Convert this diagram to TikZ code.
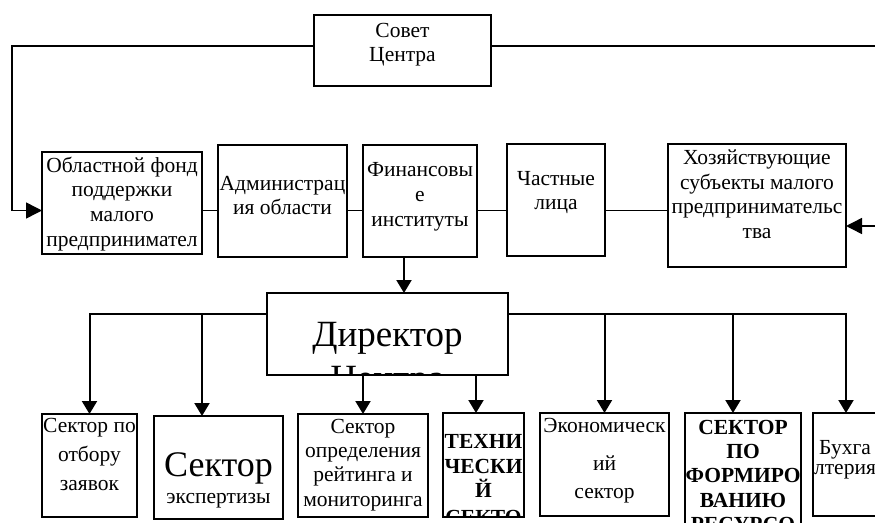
\documentclass[tikz,border=0pt]{standalone}
\usepackage{fontspec}
\setmainfont{Liberation Serif}
\usetikzlibrary{arrows.meta}
\begin{document}
\begin{tikzpicture}[x=1pt,y=-1pt,
  box/.style={draw, line width=2pt, rectangle, inner sep=0pt, outer sep=0pt},
  txt/.style={font=\fontsize{21.5}{25}\selectfont, inner sep=0pt, anchor=base},
  btxt/.style={font=\fontsize{21.5}{25}\selectfont\bfseries, inner sep=0pt, anchor=base},
  bigtxt/.style={font=\fontsize{37}{44}\selectfont, inner sep=0pt, anchor=base},
  link/.style={line width=1.5pt},
  arr/.style={line width=2pt, -{Triangle[width=15pt,length=13pt]}},
  sidearr/.style={line width=1.5pt, -{Triangle[width=16pt,length=16pt]}},
]
\fill[white] (0,0) rectangle (875,522);
\useasboundingbox (0,0) rectangle (875,522);

% boxes
\node[box, minimum width=177pt, minimum height=71pt]  (sovet)    at (402.5,50.5) {};
\node[box, minimum width=160pt, minimum height=102pt] (fund)     at (122,202.5) {};
\node[box, minimum width=129pt, minimum height=112pt] (admin)    at (282.5,201) {};
\node[box, minimum width=114pt, minimum height=112pt] (fin)      at (420,201) {};
\node[box, minimum width=98pt,  minimum height=112pt] (chast)    at (556,200) {};
\node[box, minimum width=178pt, minimum height=123pt] (khoz)     at (757,205.5) {};
\node[box, minimum width=241pt, minimum height=82pt]  (director) at (387.5,334) {};
\node[box, minimum width=95pt,  minimum height=103pt] (b1) at (89.5,465.5) {};
\node[box, minimum width=129pt, minimum height=103pt] (b2) at (218.5,467.5) {};
\node[box, minimum width=130pt, minimum height=103pt] (b3) at (363,465.5) {};
\node[box, minimum width=81pt,  minimum height=104pt] (b4) at (483.5,465) {};
\node[box, minimum width=129pt, minimum height=103pt] (b5) at (604.5,464.5) {};
\node[box, minimum width=116pt, minimum height=147pt] (b6) at (743,486.5) {};
\node[box, minimum width=97pt,  minimum height=103pt] (b7) at (861.5,464.5) {};

% helper coordinates
\coordinate (tl) at (12,46);
\coordinate (rr) at (877,226);
\coordinate (hy) at (0,210.5);
\coordinate (ax) at (404,0);
\coordinate (by) at (0,314);
\coordinate (bx2) at (202,0);
\coordinate (bx4) at (476,0);
\coordinate (bx6) at (733,0);
\coordinate (bx7) at (846,0);

% connectors
\draw[sidearr] (sovet.west |- tl) -- (tl) |- (fund.west |- hy);
\draw[sidearr] (sovet.east |- tl) -| (rr) -- (khoz.east |- rr);
\draw[link] (fund.east |- hy) -- (admin.west |- hy);
\draw[link] (admin.east |- hy) -- (fin.west |- hy);
\draw[link] (fin.east |- hy) -- (chast.west |- hy);
\draw[link] (chast.east |- hy) -- (khoz.west |- hy);
\draw[arr] (fin.south -| ax) -- (director.north -| ax);
\draw[arr] (director.west |- by) -| (b1.north);
\draw[arr] (bx2 |- by) -- (bx2 |- b2.north);
\draw[arr] (director.south -| b3.north) -- (b3.north);
\draw[arr] (director.south -| bx4) -- (bx4 |- b4.north);
\draw[arr] (director.east |- by) -| (bx7 |- b7.north);
\draw[arr] (b5.north |- by) -- (b5.north);
\draw[arr] (bx6 |- by) -- (bx6 |- b6.north);

% texts
\node[txt] (sovet-1) at (402.5,37) {Совет};
\node[txt] (sovet-2) at (402.5,61.5) {Центра};

\node[txt] (fund-1) at (122,172) {Областной фонд};
\node[txt] (fund-2) at (122,196.8) {поддержки};
\node[txt] (fund-3) at (122,221.6) {малого};
\node[txt] (fund-4) at (122,246.4) {предпринимател};

\node[txt] (admin-1) at (282.5,190) {Администрац};
\node[txt] (admin-2) at (282.5,214) {ия области};

\node[txt] (fin-1) at (420,176.5) {Финансовы};
\node[txt] (fin-2) at (420,201.5) {е};
\node[txt] (fin-3) at (420,226.5) {институты};

\node[txt] (chast-1) at (556,185.5) {Частные};
\node[txt] (chast-2) at (556,209.5) {лица};

\node[txt] (khoz-1) at (757,164.5) {Хозяйствующие};
\node[txt] (khoz-2) at (757,189) {субъекты малого};
\node[txt] (khoz-3) at (757,213.5) {предпринимательс};
\node[txt] (khoz-4) at (757,238) {тва};

\begin{scope}
  \clip (director.south west) rectangle (director.north east);
  \node[bigtxt] (dir-1) at (387.5,346) {Директор};
  \node[bigtxt] (dir-2) at (387.5,390) {Центра};
\end{scope}

\node[txt] (b1-1) at (89.5,432) {Сектор по};
\node[txt] (b1-2) at (89.5,461) {отбору};
\node[txt] (b1-3) at (89.5,490) {заявок};

\node[bigtxt, font=\fontsize{36}{40}\selectfont] (b2-1) at (218.5,476) {Сектор};
\node[txt] (b2-2) at (218.5,503) {экспертизы};

\node[txt] (b3-1) at (363,433) {Сектор};
\node[txt] (b3-2) at (363,457) {определения};
\node[txt] (b3-3) at (363,481.5) {рейтинга и};
\node[txt] (b3-4) at (363,506) {мониторинга};

\begin{scope}
  \clip (b4.south west) rectangle (b4.north east);
  \node[btxt] (b4-1) at (483.5,448.5) {ТЕХНИ};
  \node[btxt] (b4-2) at (483.5,473) {ЧЕСКИ};
  \node[btxt] (b4-3) at (483.5,497) {Й};
  \node[btxt] (b4-4) at (483.5,524) {СЕКТО};
\end{scope}

\node[txt] (b5-1) at (604.5,432) {Экономическ};
\node[txt] (b5-2) at (604.5,470) {ий};
\node[txt] (b5-3) at (604.5,498) {сектор};

\begin{scope}
  \clip (b6.south west) rectangle (b6.north east);
  \node[btxt] (b6-1) at (743,434) {СЕКТОР};
  \node[btxt] (b6-2) at (743,458.3) {ПО};
  \node[btxt] (b6-3) at (743,482.6) {ФОРМИРО};
  \node[btxt] (b6-4) at (743,507) {ВАНИЮ};
  \node[btxt] (b6-5) at (743,531.5) {РЕСУРСО};
\end{scope}

\begin{scope}
  \clip (b7.south west) rectangle (b7.north east);
  \node[txt] (b7-1) at (845,454) {Бухга};
  \node[txt] (b7-2) at (845,474) {лтерия};
\end{scope}
\end{tikzpicture}
\end{document}
